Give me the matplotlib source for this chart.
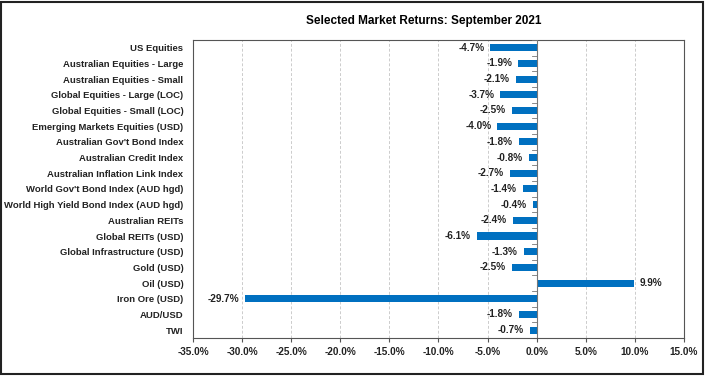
import matplotlib.pyplot as plt
from matplotlib.patches import Rectangle
from matplotlib.ticker import FuncFormatter

categories = [
    "US Equities", "Australian Equities - Large", "Australian Equities - Small",
    "Global Equities - Large (LOC)", "Global Equities - Small (LOC)",
    "Emerging Markets Equities (USD)", "Australian Gov't Bond Index",
    "Australian Credit Index", "Australian Inflation Link Index",
    "World Gov't Bond Index (AUD hgd)", "World High Yield Bond Index (AUD hgd)",
    "Australian REITs", "Global REITs (USD)", "Global Infrastructure (USD)",
    "Gold (USD)", "Oil (USD)", "Iron Ore (USD)", "AUD/USD", "TWI",
]
returns = [-4.7, -1.9, -2.1, -3.7, -2.5, -4.0, -1.8, -0.8, -2.7,
           -1.4, -0.4, -2.4, -6.1, -1.3, -2.5, 9.9, -29.7, -1.8, -0.7]
x_ticks = [-35, -30, -25, -20, -15, -10, -5, 0, 5, 10, 15]

plt.rcParams['font.family'] = ['Liberation Sans', 'DejaVu Sans']

fig = plt.figure(figsize=(7.05, 3.76), dpi=100)
ax = fig.add_axes([0.2738, 0.101, 0.6962, 0.793])

y = list(range(len(categories)))
ax.barh(y, returns, height=0.45, color="#0070C0", zorder=3)

for yi, v in zip(y, returns):
    if v < 0:
        ax.text(v - 0.6, yi, f"{v:.1f}%", ha="right", va="center",
                fontsize=7.2, fontweight="bold", color="#222222")
    else:
        ax.text(v + 0.6, yi, f"{v:.1f}%", ha="left", va="center",
                fontsize=7.2, fontweight="bold", color="#222222")

ax.set_xlim(-35, 15)
ax.set_ylim(len(categories) - 0.5, -0.5)
ax.set_xticks(x_ticks)
ax.xaxis.set_major_formatter(FuncFormatter(lambda v, p: f"{v:.1f}%"))
ax.set_yticks(y)
ax.set_yticklabels(categories)
ax.tick_params(axis="y", length=0, pad=7, labelsize=6.8)
ax.tick_params(axis="x", length=3, labelsize=7.2, color="#555555")
for lab in ax.get_xticklabels() + ax.get_yticklabels():
    lab.set_fontweight("bold")
    lab.set_color("#222222")

ax.grid(axis="x", color="#cccccc", linestyle=(0, (3, 2)), linewidth=0.7, zorder=0)
ax.axvline(0, color="#777777", linewidth=0.8, zorder=4)
for b in range(len(categories) + 1):
    ax.plot([-0.45, 0], [b - 0.5, b - 0.5], color="#777777", linewidth=0.6, zorder=4)

for s in ax.spines.values():
    s.set_color("#555555")
    s.set_linewidth(0.8)

fig.text(0.601, 0.945, "Selected Market Returns: September 2021", ha="center",
         va="center", fontsize=8.5, fontweight="bold")

fig.patches.append(Rectangle((0.002, 0.004), 0.995, 0.992, transform=fig.transFigure,
                             fill=False, edgecolor="#222222", linewidth=1.5))

fig.savefig("out.png", dpi=100)
